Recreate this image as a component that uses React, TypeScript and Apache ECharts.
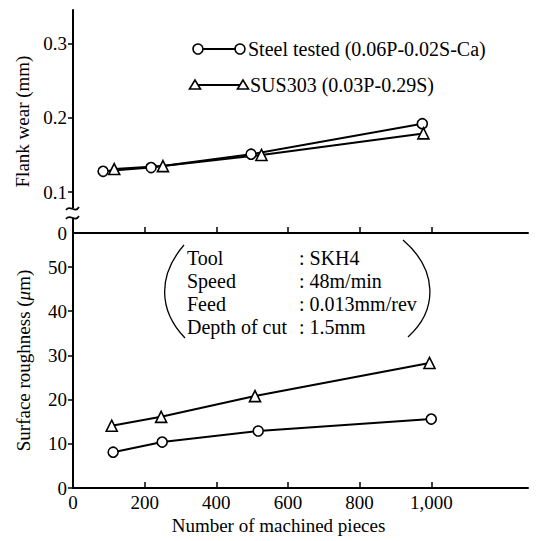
import React, { useEffect, useRef } from "react";
import * as echarts from "echarts";

// Upper panel: flank wear (mm)
const flankSteelX = [84, 218, 497, 975];
const flankSteel = [0.128, 0.133, 0.151, 0.192];
const flankSusX = [115, 251, 526, 978];
const flankSus = [0.131, 0.135, 0.15, 0.179];

// Lower panel: surface roughness (µm)
const roughSteelX = [112, 249, 517, 1000];
const roughSteel = [8.1, 10.4, 12.9, 15.6];
const roughSusX = [108, 246, 508, 995];
const roughSus = [14.1, 16.1, 20.8, 28.3];

const xTicks = [0, 200, 400, 600, 800, 1000];
const xTickLabels = ["0", "200", "400", "600", "800", "1,000"];
const flankTicks = [0.1, 0.2, 0.3];
const roughTicks = [0, 10, 20, 30, 40, 50];

const seriesNames = ["Steel tested (0.06P-0.02S-Ca)", "SUS303 (0.03P-0.29S)"];
const conditionNames = ["Tool", "Speed", "Feed", "Depth of cut"];
const conditionValues = [": SKH4", ": 48m/min", ": 0.013mm/rev", ": 1.5mm"];

const FONT = "Liberation Serif";
const BLACK = "#000";

export default function App() {
  const ref = useRef<HTMLDivElement>(null);
  useEffect(() => {
    if (!ref.current) return;
    const chart = echarts.init(ref.current, null, { renderer: "svg" });
    const zip = (xs: number[], ys: number[]) => xs.map((x, i) => [x, ys[i]]);
    const markerStyle = { color: "#fff", borderColor: BLACK, borderWidth: 1.6 };
    const lineStyle = { color: BLACK, width: 2 };
    const txt = { fontFamily: FONT, fontSize: 19, color: BLACK };
    const gFont = `20px "${FONT}"`;

    const legendGraphics: any[] = [];
    const legendRows = [
      { y: 49, x1: 198, x2: 240, tx: 248, sym: "circle" },
      { y: 85, x1: 195, x2: 243, tx: 250, sym: "triangle" },
    ];
    legendRows.forEach((r, i) => {
      legendGraphics.push({
        type: "line",
        z: 100,
        shape: { x1: r.x1, y1: r.y, x2: r.x2, y2: r.y },
        style: { stroke: BLACK, lineWidth: 2 },
      });
      [r.x1, r.x2].forEach((cx) => {
        if (r.sym === "circle") {
          legendGraphics.push({
            type: "circle",
            z: 101,
            shape: { cx, cy: r.y, r: 5 },
            style: { fill: "#fff", stroke: BLACK, lineWidth: 1.6 },
          });
        } else {
          legendGraphics.push({
            type: "polygon",
            z: 101,
            shape: { points: [[cx, r.y - 5], [cx - 5.5, r.y + 4], [cx + 5.5, r.y + 4]] },
            style: { fill: "#fff", stroke: BLACK, lineWidth: 1.6 },
          });
        }
      });
      legendGraphics.push({
        type: "text",
        z: 101,
        x: r.tx,
        y: r.y,
        style: { text: seriesNames[i], font: gFont, fill: BLACK, verticalAlign: "middle" },
      });
    });

    const condGraphics: any[] = [];
    const rowsY = [258, 281, 304, 327];
    conditionNames.forEach((n, i) => {
      condGraphics.push({
        type: "text",
        z: 101,
        x: 187,
        y: rowsY[i],
        style: { text: n, font: gFont, fill: BLACK, verticalAlign: "middle" },
      });
      condGraphics.push({
        type: "text",
        z: 101,
        x: 299,
        y: rowsY[i],
        style: { text: conditionValues[i], font: gFont, fill: BLACK, verticalAlign: "middle" },
      });
    });
    condGraphics.push({
      type: "bezierCurve",
      z: 101,
      shape: { x1: 184, y1: 245, cpx1: 158, cpy1: 275, cpx2: 158, cpy2: 310, x2: 185, y2: 338 },
      style: { stroke: BLACK, lineWidth: 1.3, fill: "none" },
    });
    condGraphics.push({
      type: "bezierCurve",
      z: 101,
      shape: { x1: 403, y1: 240, cpx1: 438, cpy1: 270, cpx2: 438, cpy2: 310, x2: 408, y2: 337 },
      style: { stroke: BLACK, lineWidth: 1.3, fill: "none" },
    });

    const breakGraphics: any[] = [
      { type: "rect", z: 100, shape: { x: 69, y: 208, width: 9, height: 10 }, style: { fill: "#fff" } },
      {
        type: "bezierCurve",
        z: 101,
        shape: { x1: 66, y1: 210, cpx1: 70, cpy1: 204, cpx2: 75, cpy2: 214, x2: 79, y2: 207 },
        style: { stroke: BLACK, lineWidth: 1.6, fill: "none" },
      },
      {
        type: "bezierCurve",
        z: 101,
        shape: { x1: 66, y1: 219, cpx1: 70, cpy1: 213, cpx2: 75, cpy2: 223, x2: 79, y2: 216 },
        style: { stroke: BLACK, lineWidth: 1.6, fill: "none" },
      },
    ];

    const option: any = {
      animation: false,
      backgroundColor: "#fff",
      grid: [
        { left: 73, top: 10, width: 455, height: 223 },
        { left: 73, top: 233, width: 455, height: 255 },
      ],
      xAxis: [
        {
          type: "value",
          gridIndex: 0,
          min: 0,
          max: 1270,
          axisLine: { show: true, lineStyle: { color: BLACK, width: 2 } },
          axisTick: { show: true, inside: true, length: 6, customValues: xTicks.slice(1), lineStyle: { color: BLACK, width: 1.5 } },
          axisLabel: { show: false },
          splitLine: { show: false },
        },
        {
          type: "value",
          gridIndex: 1,
          min: 0,
          max: 1270,
          name: "Number of machined pieces",
          nameLocation: "middle",
          nameGap: 28,
          nameTextStyle: { ...txt, padding: [0, 44, 0, 0] },
          axisLine: { show: true, lineStyle: { color: BLACK, width: 2 } },
          axisTick: { show: true, inside: true, length: 6, customValues: xTicks.slice(1), lineStyle: { color: BLACK, width: 1.5 } },
          axisLabel: {
            ...txt,
            margin: 5,
            customValues: xTicks,
            formatter: (v: number) => xTickLabels[xTicks.indexOf(v)] ?? "",
          },
          splitLine: { show: false },
        },
      ],
      yAxis: [
        {
          type: "value",
          gridIndex: 0,
          min: 0.045,
          max: 0.345,
          name: "Flank wear (mm)",
          nameLocation: "middle",
          nameGap: 33,
          nameTextStyle: txt,
          axisLine: { show: true, lineStyle: { color: BLACK, width: 2 } },
          axisTick: { show: true, length: 5, customValues: flankTicks, lineStyle: { color: BLACK, width: 1.5 } },
          axisLabel: {
            ...txt,
            margin: 6,
            customValues: [0.045, ...flankTicks],
            formatter: (v: number) => (v < 0.05 ? "0" : v.toFixed(1)),
          },
          splitLine: { show: false },
        },
        {
          type: "value",
          gridIndex: 1,
          min: 0,
          max: 57.7,
          name: "{n|Surface roughness (}{i|μ}{n|m)}",
          nameLocation: "middle",
          nameGap: 40,
          nameTextStyle: {
            ...txt,
            rich: {
              n: { fontFamily: FONT, fontSize: 19, color: BLACK },
              i: { fontFamily: FONT, fontSize: 19, color: BLACK, fontStyle: "italic" },
            },
          },
          axisLine: { show: true, lineStyle: { color: BLACK, width: 2 } },
          axisTick: { show: true, length: 5, customValues: roughTicks, lineStyle: { color: BLACK, width: 1.5 } },
          axisLabel: { ...txt, margin: 6, customValues: roughTicks },
          splitLine: { show: false },
        },
      ],
      series: [
        {
          name: seriesNames[0],
          type: "line",
          xAxisIndex: 0,
          yAxisIndex: 0,
          data: zip(flankSteelX, flankSteel),
          symbol: "circle",
          symbolSize: 10,
          lineStyle,
          itemStyle: markerStyle,
        },
        {
          name: seriesNames[1],
          type: "line",
          xAxisIndex: 0,
          yAxisIndex: 0,
          data: zip(flankSusX, flankSus),
          symbol: "triangle",
          symbolSize: 11,
          lineStyle,
          itemStyle: markerStyle,
        },
        {
          name: seriesNames[0],
          type: "line",
          xAxisIndex: 1,
          yAxisIndex: 1,
          data: zip(roughSteelX, roughSteel),
          symbol: "circle",
          symbolSize: 10,
          lineStyle,
          itemStyle: markerStyle,
        },
        {
          name: seriesNames[1],
          type: "line",
          xAxisIndex: 1,
          yAxisIndex: 1,
          data: zip(roughSusX, roughSus),
          symbol: "triangle",
          symbolSize: 11,
          lineStyle,
          itemStyle: markerStyle,
        },
      ],
      graphic: [...legendGraphics, ...condGraphics, ...breakGraphics],
    };
    chart.setOption(option);
    return () => chart.dispose();
  }, []);
  return (
    <div
      ref={ref}
      style={{ position: "fixed", left: 0, top: 0, width: 539, height: 541, background: "#fff" }}
    />
  );
}
